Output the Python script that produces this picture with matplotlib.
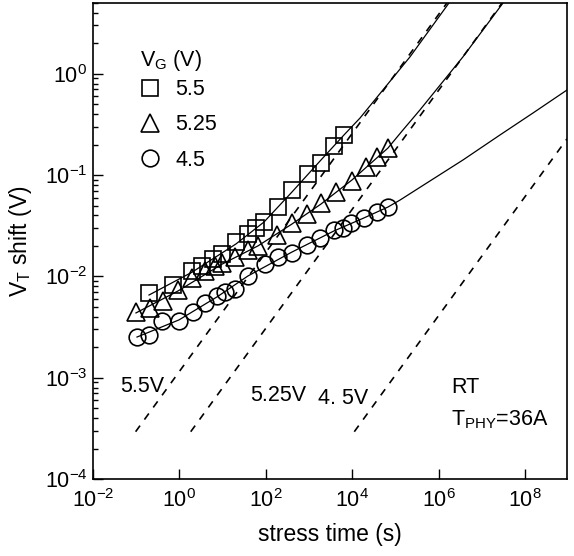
import matplotlib
matplotlib.use('Agg')
import matplotlib.pyplot as plt

plt.rcParams['font.family'] = ['Liberation Sans', 'DejaVu Sans']
plt.rcParams['mathtext.default'] = 'regular'
plt.rcParams['font.size'] = 15

# measured V_T shift, V_G = 5.5 V (squares)
t_55 = [0.198, 0.71, 1.96, 3.33, 6.0, 9.7, 20.4, 38.7, 59.3, 90.8,
        191, 404, 948, 1897, 3793, 6460]
v_55 = [0.00685, 0.00822, 0.0113, 0.0127, 0.0149, 0.0166, 0.0219, 0.0262,
        0.0301, 0.0345, 0.0484, 0.0713, 0.1035, 0.1316, 0.1937, 0.249]

# V_G = 5.25 V (triangles)
t_525 = [0.099, 0.208, 0.417, 0.93, 1.96, 3.92, 6.67, 9.7, 19.4, 38.7,
         66, 182, 404, 899, 1897, 4220, 9890, 20800, 37500, 67400]
v_525 = [0.00446, 0.00488, 0.00571, 0.00734, 0.00964, 0.0113, 0.0127,
         0.0136, 0.0155, 0.0182, 0.0200, 0.0256, 0.0337, 0.0413, 0.0531,
         0.0681, 0.0875, 0.120, 0.151, 0.185]

# V_G = 4.5 V (circles)
t_45 = [0.1045, 0.198, 0.395, 0.98, 2.07, 3.92, 7.42, 11.4, 19.4, 38.7,
        95.8, 191, 404, 899, 1800, 3793, 6120, 9380, 18800, 37500, 67400]
v_45 = [0.00252, 0.00264, 0.00363, 0.00363, 0.00446, 0.00546, 0.00641,
        0.00702, 0.00751, 0.0101, 0.0132, 0.0155, 0.0170, 0.0204, 0.0239,
        0.0287, 0.0301, 0.0337, 0.0377, 0.0432, 0.0484]

# fitted curves (solid)
fit_t_55 = [0.198, 1.96, 20.4, 90.8, 404, 1897, 6460, 1.52e4, 2.18e5, 1.74e6]
fit_v_55 = [0.00655, 0.0110, 0.0209, 0.0344, 0.0681, 0.141, 0.249, 0.366,
            1.47, 5.0]
fit_t_525 = [0.0989, 0.929, 9.68, 65.9, 404, 1897, 9890, 67400, 1.50e5,
             3.71e5, 3.67e6, 3.10e7]
fit_v_525 = [0.00436, 0.00718, 0.0132, 0.0200, 0.0329, 0.0518, 0.0895,
             0.185, 0.279, 0.440, 1.47, 5.0]
fit_t_45 = [0.1045, 0.98, 7.42, 38.7, 404, 3790, 1.88e4, 6.74e4, 1.28e5,
            6.32e5, 3.67e6, 2.64e7, 1.53e8, 9.4e8]
fit_v_45 = [0.00252, 0.00372, 0.00627, 0.0101, 0.0174, 0.0281, 0.0378,
            0.0484, 0.0567, 0.0875, 0.141, 0.249, 0.410, 0.692]

# long-time asymptotes (dashed)
dash_t_55 = [0.097, 1.56e6]
dash_t_525 = [1.83, 2.94e7]
dash_t_45 = [1.12e4, 9.4e8]
dash_v_55 = [2.93e-4, 5.0]
dash_v_525 = [2.93e-4, 5.0]
dash_v_45 = [2.93e-4, 0.228]

fig = plt.figure(figsize=(5.74, 5.56), dpi=100)
ax = fig.add_axes([0.162, 0.1385, 0.8258, 0.8561])

for ft, fv in [(fit_t_55, fit_v_55), (fit_t_525, fit_v_525), (fit_t_45, fit_v_45)]:
    ax.plot(ft, fv, '-', color='black', lw=0.9)
for dt, dv in [(dash_t_55, dash_v_55), (dash_t_525, dash_v_525), (dash_t_45, dash_v_45)]:
    ax.plot(dt, dv, color='black', lw=1.2, dashes=(4.5, 4.5))

mk = dict(ls='none', mfc='none', mec='black', mew=1.2)
h1, = ax.plot(t_55, v_55, marker='s', ms=11, label='5.5', **mk)
h2, = ax.plot(t_525, v_525, marker='^', ms=12.5, label='5.25', **mk)
h3, = ax.plot(t_45, v_45, marker='o', ms=12, label='4.5', **mk)

ax.set_xscale('log')
ax.set_yscale('log')
ax.set_xlim(1e-2, 9.4e8)
ax.set_ylim(1e-4, 5)
ax.tick_params(which='both', direction='in', top=False, right=False, width=1)
ax.tick_params(which='major', length=7, labelsize=15.5)
ax.tick_params(which='minor', length=3.5)
ax.tick_params(axis='x', pad=7)
ax.tick_params(axis='y', pad=4)
for sp in ax.spines.values():
    sp.set_linewidth(1.2)

ax.set_xlabel('stress time (s)', fontsize=16.5, labelpad=8)
ax.set_ylabel(r'$V_T$ shift (V)', fontsize=16.5, labelpad=8)

# legend title drawn on its own so the rows can sit closer under it
ax.text(0.099, 0.868, r'$V_G$ (V)', transform=ax.transAxes, fontsize=15.5)
leg = ax.legend(handles=[h1, h2, h3], loc='upper left',
                bbox_to_anchor=(0.099, 0.840), frameon=False, borderpad=0,
                borderaxespad=0, handlelength=0.95, handletextpad=0.7,
                labelspacing=0.66, fontsize=15.5)

ax.text(0.057, 0.183, '5.5V', transform=ax.transAxes, fontsize=15.5)
ax.text(0.331, 0.164, '5.25V', transform=ax.transAxes, fontsize=15.5)
ax.text(0.475, 0.158, '4. 5V', transform=ax.transAxes, fontsize=15.5)
ax.text(0.755, 0.180, 'RT', transform=ax.transAxes, fontsize=15.5)
ax.text(0.755, 0.113, r'$T_{PHY}$=36A', transform=ax.transAxes, fontsize=15.5)

fig.savefig('out.png', dpi=100)
